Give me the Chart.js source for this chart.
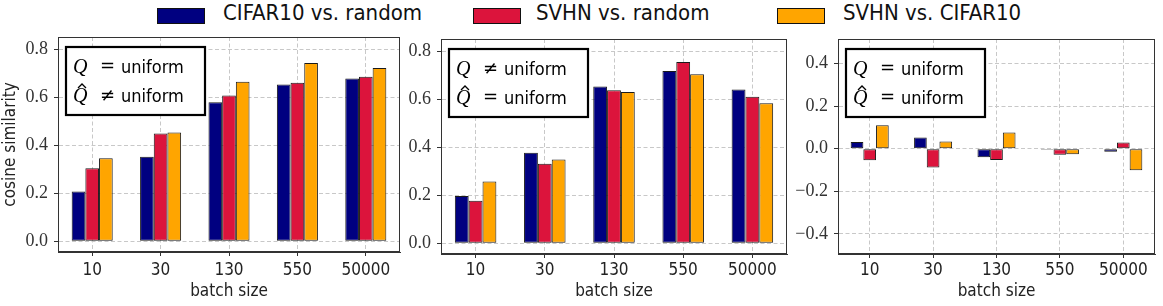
<!DOCTYPE html>
<html>
<head>
<meta charset="utf-8">
<script src="https://cdn.jsdelivr.net/npm/chart.js@4"></script>
<style>
  body { margin: 0; background: #fff; }
  #wrap { position: relative; width: 1163px; height: 306px; overflow: hidden; }
  canvas { position: absolute; top: 0; }
  .sw { position: absolute; top: 8px; width: 46px; height: 14px; border: 1px solid #111; }
  .lt { position: absolute; top: 0; height: 32px; line-height: 32px; white-space: nowrap;
        font: 22px "DejaVu Sans Condensed", "DejaVu Sans", sans-serif; color: #111; }
</style>
</head>
<body>
<div id="wrap">
  <div class="sw" style="left:157px;background:#000080"></div>
  <div class="lt" style="left:223px">CIFAR10 vs. random</div>
  <div class="sw" style="left:473px;background:#DC143C"></div>
  <div class="lt" style="left:536px">SVHN vs. random</div>
  <div class="sw" style="left:777px;background:#FFA500"></div>
  <div class="lt" style="left:843px">SVHN vs. CIFAR10</div>
  <canvas id="c1"></canvas>
  <canvas id="c2"></canvas>
  <canvas id="c3"></canvas>
</div>
<script>
const categories = ["10", "30", "130", "550", "50000"];
const seriesNames = ["CIFAR10 vs. random", "SVHN vs. random", "SVHN vs. CIFAR10"];
const colors = ["#000080", "#DC143C", "#FFA500"];

// left panel: Q = uniform, Q^ != uniform
const p1Cifar = [0.207, 0.352, 0.578, 0.652, 0.677];
const p1SvhnRand = [0.304, 0.448, 0.606, 0.660, 0.685];
const p1SvhnCifar = [0.345, 0.452, 0.664, 0.742, 0.721];

// middle panel: Q != uniform, Q^ = uniform
const p2Cifar = [0.196, 0.377, 0.652, 0.717, 0.640];
const p2SvhnRand = [0.177, 0.331, 0.637, 0.754, 0.610];
const p2SvhnCifar = [0.257, 0.348, 0.629, 0.703, 0.583];

// right panel: both uniform
const p3Cifar = [0.031, 0.052, -0.040, -0.005, -0.015];
const p3SvhnRand = [-0.055, -0.089, -0.053, -0.029, 0.029];
const p3SvhnCifar = [0.110, 0.034, 0.076, -0.026, -0.101];

const notes1 = ["=", "\u2260"];
const notes2 = ["\u2260", "="];
const notes3 = ["=", "="];

const SANS = '"DejaVu Sans Condensed", "DejaVu Sans", sans-serif';
const SERIF = '"Liberation Serif", serif';

const framePlugin = {
  id: "frame",
  afterDraw(chart, args, opts) {
    const ctx = chart.ctx;
    const a = chart.chartArea;
    ctx.save();
    ctx.strokeStyle = "#333";
    ctx.lineWidth = 1;
    ctx.strokeRect(Math.round(a.left) + 0.5, Math.round(a.top) + 0.5,
      Math.round(a.right - a.left) - 1, Math.round(a.bottom - a.top) - 1);

    // note box in the upper left corner
    const bx = Math.round(a.left) + 8, by = Math.round(a.top) + 10, bw = 139, bh = 68;
    ctx.fillStyle = "#fff";
    ctx.fillRect(bx, by, bw, bh);
    ctx.lineWidth = 2.2;
    ctx.strokeStyle = "#000";
    ctx.strokeRect(bx, by, bw, bh);
    ctx.fillStyle = "#000";
    ctx.textAlign = "left";
    ctx.textBaseline = "alphabetic";
    opts.lines.forEach((rel, i) => {
      const y = by + 26 + i * 29;
      const x = bx + 7;
      ctx.font = "italic 20px " + SERIF;
      ctx.fillText("Q", x, y);
      if (i === 1) {
        ctx.beginPath();
        ctx.lineWidth = 1.3;
        ctx.moveTo(x + 5, y - 14);
        ctx.lineTo(x + 9, y - 18);
        ctx.lineTo(x + 13, y - 14);
        ctx.stroke();
      }
      ctx.font = "18px \"DejaVu Serif\", serif";
      ctx.fillText(rel, x + 27, y - 1);
      ctx.font = "18px " + SANS;
      ctx.fillText("uniform", x + 48, y);
    });
    ctx.restore();
  }
};

function fmt(v) {
  const r = Math.round(v * 10) / 10;
  if (Math.abs(r) < 1e-9) return "0.0";
  return (r < 0 ? "\u2212" : "") + Math.abs(r).toFixed(1);
}

function makeChart(id, left, areaRight, top, bottom, yMin, yMax, yTitle, series, notes) {
  const canvas = document.getElementById(id);
  const yWidth = 58;
  const width = Math.round(areaRight) + 2 - left;
  canvas.style.left = left + "px";
  canvas.width = width;
  canvas.height = 306;
  canvas.style.width = width + "px";
  canvas.style.height = "306px";
  const xHeight = 306 - bottom - 4;

  return new Chart(canvas.getContext("2d"), {
    type: "bar",
    data: {
      labels: categories,
      datasets: series.map((d, i) => ({
        label: seriesNames[i],
        data: d,
        backgroundColor: colors[i],
        borderColor: "#1a1a1a",
        borderWidth: 1,
        borderSkipped: false,
        barPercentage: 1,
        categoryPercentage: 0.6
      }))
    },
    options: {
      responsive: false,
      animation: false,
      devicePixelRatio: 1,
      layout: { padding: { left: 0, right: 2, top: top, bottom: 4 } },
      plugins: {
        legend: { display: false },
        tooltip: { enabled: false },
        frame: { lines: notes }
      },
      scales: {
        x: {
          offset: true,
          grid: { offset: false, color: "#c8c8c8", tickColor: "#333", tickLength: 4, tickBorderDash: [] },
          border: { color: "#333", dash: [4, 2.5] },
          ticks: { color: "#222", font: { family: SANS, size: 17 }, padding: 4 - (bottom - 252), maxRotation: 0 },
          title: { display: true, text: "batch size", color: "#222", font: { family: SANS, size: 17 }, padding: { top: 0, bottom: 0 } },
          afterFit: s => { s.height = xHeight; }
        },
        y: {
          min: yMin,
          max: yMax,
          grid: { color: "#c8c8c8", tickColor: "#333", tickLength: 4, tickBorderDash: [] },
          border: { color: "#333", dash: [4, 2.5] },
          ticks: { stepSize: 0.2, includeBounds: false, color: "#333", padding: 6,
                   font: { family: SERIF, size: 18 }, callback: v => fmt(v) },
          title: { display: !!yTitle, text: yTitle || "", color: "#222", font: { family: SANS, size: 17 }, padding: 0 },
          afterFit: s => { s.width = yWidth; }
        }
      }
    },
    plugins: [framePlugin]
  });
}

makeChart("c1", 0, 400, 37, 252, -0.045, 0.85, "cosine similarity",
  [p1Cifar, p1SvhnRand, p1SvhnCifar], notes1);
makeChart("c2", 383, 787, 39, 254, -0.045, 0.85, "",
  [p2Cifar, p2SvhnRand, p2SvhnCifar], notes2);
makeChart("c3", 780, 1155, 39, 254, -0.495, 0.515, "",
  [p3Cifar, p3SvhnRand, p3SvhnCifar], notes3);
</script>
</body>
</html>
